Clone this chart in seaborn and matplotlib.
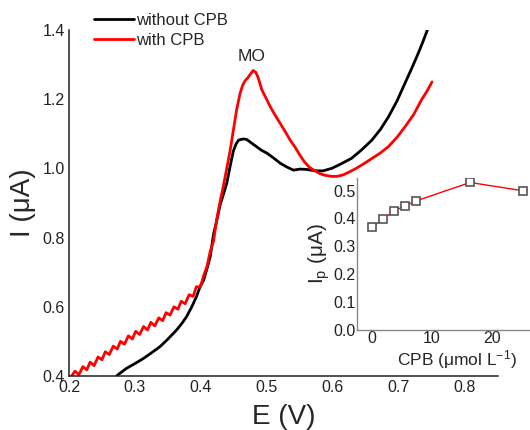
import numpy as np
import pandas as pd
import seaborn as sns
import matplotlib.pyplot as plt

sns.set_style('white')
plt.rcParams['font.family'] = ['Liberation Sans', 'DejaVu Sans']
plt.rcParams['mathtext.fontset'] = 'custom'
plt.rcParams['mathtext.rm'] = 'Liberation Sans'
plt.rcParams['mathtext.it'] = 'Liberation Sans:italic'

# main voltammograms, E (V) vs I (uA)
e_without = [0.272, 0.280, 0.287, 0.300, 0.313, 0.325, 0.338, 0.350, 0.363, 0.371,
             0.378, 0.386, 0.393, 0.399, 0.404, 0.409, 0.414, 0.419, 0.424, 0.429,
             0.434, 0.439, 0.444, 0.449, 0.453, 0.457, 0.464, 0.469, 0.476, 0.484,
             0.492, 0.500, 0.510, 0.520, 0.530, 0.540, 0.550, 0.560, 0.573, 0.585,
             0.598, 0.611, 0.628, 0.643, 0.659, 0.672, 0.684, 0.697, 0.709, 0.719,
             0.729, 0.736, 0.743]
i_without = [0.400, 0.412, 0.422, 0.436, 0.451, 0.467, 0.485, 0.507, 0.533, 0.552,
             0.571, 0.600, 0.629, 0.660, 0.677, 0.710, 0.745, 0.810, 0.850, 0.895,
             0.925, 0.957, 1.005, 1.050, 1.070, 1.082, 1.085, 1.084, 1.074, 1.063,
             1.052, 1.044, 1.030, 1.015, 1.004, 0.995, 0.998, 0.997, 0.993, 0.993,
             1.000, 1.012, 1.029, 1.053, 1.082, 1.113, 1.149, 1.195, 1.246, 1.288,
             1.332, 1.365, 1.400]

e_with = [0.204, 0.209, 0.215, 0.221, 0.227, 0.232, 0.238, 0.244, 0.250, 0.255,
          0.261, 0.267, 0.273, 0.278, 0.284, 0.290, 0.296, 0.301, 0.307, 0.313,
          0.319, 0.324, 0.330, 0.336, 0.342, 0.347, 0.353, 0.359, 0.365, 0.370,
          0.376, 0.382, 0.388, 0.393, 0.399, 0.404, 0.409, 0.414, 0.419, 0.424,
          0.429, 0.434, 0.439, 0.444, 0.449, 0.454, 0.459, 0.463, 0.467, 0.471,
          0.474, 0.479, 0.483, 0.487, 0.492, 0.498, 0.505, 0.512, 0.520, 0.528,
          0.535, 0.542, 0.550, 0.557, 0.565, 0.573, 0.580, 0.588, 0.598, 0.606,
          0.615, 0.623, 0.635, 0.648, 0.660, 0.672, 0.684, 0.697, 0.709, 0.722,
          0.734, 0.742, 0.750]
i_with = [0.400, 0.414, 0.404, 0.427, 0.418, 0.440, 0.430, 0.455, 0.447, 0.470,
          0.462, 0.486, 0.478, 0.500, 0.492, 0.516, 0.507, 0.529, 0.520, 0.543,
          0.533, 0.555, 0.545, 0.568, 0.560, 0.583, 0.576, 0.600, 0.593, 0.616,
          0.609, 0.635, 0.630, 0.658, 0.657, 0.690, 0.716, 0.760, 0.790, 0.855,
          0.905, 0.950, 1.000, 1.050, 1.110, 1.170, 1.215, 1.240, 1.254, 1.262,
          1.270, 1.283, 1.278, 1.260, 1.228, 1.205, 1.178, 1.155, 1.130, 1.105,
          1.082, 1.063, 1.038, 1.018, 1.002, 0.993, 0.985, 0.980, 0.977, 0.977,
          0.981, 0.988, 1.000, 1.015, 1.030, 1.045, 1.063, 1.090, 1.120, 1.155,
          1.198, 1.222, 1.250]

# inset: peak current vs CPB concentration
cpb_conc = [0, 1.8, 3.7, 5.6, 7.4, 16.4, 25.3]
ip_values = [0.369, 0.397, 0.427, 0.446, 0.463, 0.529, 0.499]

fig = plt.figure(figsize=(5.3, 4.3), dpi=100)
ax = fig.add_axes([69/530, 1-376/430, (498-69)/530, (376-30)/430])

df_without = pd.DataFrame({'E': e_without, 'I': i_without})
df_with = pd.DataFrame({'E': e_with, 'I': i_with})
sns.lineplot(data=df_without, x='E', y='I', sort=False, estimator=None,
             color='black', lw=2, label='without CPB', ax=ax)
sns.lineplot(data=df_with, x='E', y='I', sort=False, estimator=None,
             color='#ff0000', lw=2, label='with CPB', ax=ax)

ax.set_xlim(0.2, 0.85)
ax.set_ylim(0.4, 1.4)
ax.set_xticks([0.2, 0.3, 0.4, 0.5, 0.6, 0.7, 0.8])
ax.set_yticks([0.4, 0.6, 0.8, 1.0, 1.2, 1.4])
ax.set_xticklabels(['0.2', '0.3', '0.4', '0.5', '0.6', '0.7', '0.8'])
ax.set_yticklabels(['0.4', '0.6', '0.8', '1.0', '1.2', '1.4'])
ax.tick_params(labelsize=11.5, length=2, width=1, pad=1, colors='#222')
for s in ['top', 'right']:
    ax.spines[s].set_visible(False)
for s in ['left', 'bottom']:
    ax.spines[s].set_color('#222')
    ax.spines[s].set_linewidth(1.1)
ax.set_xlabel('E (V)', fontsize=20, labelpad=6)
ax.set_ylabel('I (μA)', fontsize=20, labelpad=5)
ax.text(0.477, 1.323, 'MO', fontsize=12.5, ha='center', va='center')

ax.legend(loc='upper left', bbox_to_anchor=(94/530, 1-13/430),
          bbox_transform=fig.transFigure, frameon=False, fontsize=12,
          handlelength=2.4, handletextpad=0.15, borderpad=0, borderaxespad=0,
          labelspacing=0.3)

ax_in = fig.add_axes([357/530, 1-330/430, (530-357)/530, (330-178)/430])
ax_in.patch.set_alpha(0)
sns.lineplot(x=cpb_conc, y=ip_values, color='#ff0000', lw=1, marker='s',
             markersize=6, markerfacecolor='white', markeredgecolor='#555',
             markeredgewidth=1.2, ax=ax_in)
ax_in.set_xlim(-2.5, 26.4)
ax_in.set_ylim(0, 0.545)
ax_in.set_xticks([0, 10, 20])
ax_in.set_yticks([0.0, 0.1, 0.2, 0.3, 0.4, 0.5])
ax_in.set_yticklabels(['0.0', '0.1', '0.2', '0.3', '0.4', '0.5'])
ax_in.tick_params(labelsize=11.5, length=0, pad=1, colors='#222')
for s in ['top', 'right']:
    ax_in.spines[s].set_visible(False)
for s in ['left', 'bottom']:
    ax_in.spines[s].set_color('#888')
    ax_in.spines[s].set_linewidth(1)
ax_in.set_xlabel(r'CPB (μmol L$^{\mathrm{-1}}$)', fontsize=12.5)
ax_in.xaxis.set_label_coords(0.58, -0.12)
ax_in.set_ylabel(r'I$_{\mathrm{p}}$ (μA)', fontsize=15, labelpad=1)

fig.savefig('out.png', dpi=100)
